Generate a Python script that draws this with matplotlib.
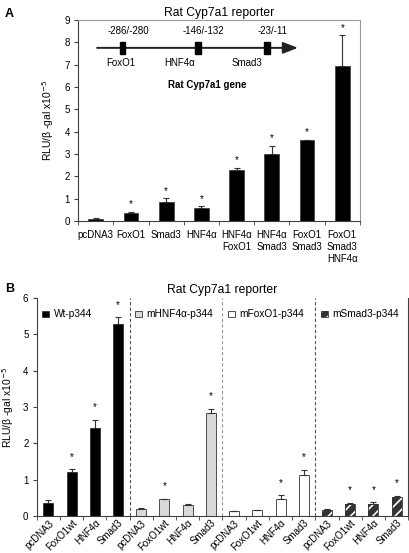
import matplotlib
matplotlib.use("Agg")
import matplotlib.pyplot as plt
from matplotlib.patches import Rectangle
import numpy as np

plt.rcParams['font.family'] = ['Liberation Sans', 'DejaVu Sans']
plt.rcParams['hatch.linewidth'] = 1.2

# ---------------- Data ----------------
a_labels = ["pcDNA3", "FoxO1", "Smad3", "HNF4α", "HNF4α\nFoxO1", "HNF4α\nSmad3",
            "FoxO1\nSmad3", "FoxO1\nSmad3\nHNF4α"]
a_values = [0.12, 0.36, 0.87, 0.61, 2.31, 2.99, 3.63, 6.93]
a_errors = [0.02, 0.06, 0.15, 0.05, 0.08, 0.37, 0.02, 1.38]
a_star = [False, True, True, True, True, True, True, True]

b_groups = ["Wt-p344", "mHNF4α-p344", "mFoxO1-p344", "mSmad3-p344"]
b_labels = ["pcDNA3", "FoxO1wt", "HNF4α", "Smad3"]
b_values = [[0.35, 1.22, 2.43, 5.29],
            [0.20, 0.46, 0.30, 2.83],
            [0.13, 0.16, 0.48, 1.14],
            [0.17, 0.34, 0.34, 0.51]]
b_errors = [[0.08, 0.07, 0.22, 0.19],
            [0.02, 0.02, 0.02, 0.12],
            [0.01, 0.01, 0.10, 0.13],
            [0.01, 0.03, 0.04, 0.05]]
b_star = [[False, True, True, True],
          [False, True, False, True],
          [False, False, True, True],
          [False, True, True, True]]

b_face = ["black", "#d9d9d9", "white", "#333333"]
b_hatch = [None, None, None, "///"]

ylabel = "RLU/β -gal x10$^{-5}$"

fig = plt.figure(figsize=(4.09, 5.53), dpi=100)

# ---------------- Panel A ----------------
axA = fig.add_axes([0.191, 0.600, 0.689, 0.364])
xa = np.arange(len(a_values))
axA.bar(xa, a_values, width=0.42, color="black", edgecolor="#444444", linewidth=0.6,
        yerr=[np.zeros(len(a_errors)), a_errors], capsize=2,
        error_kw=dict(ecolor="#333333", elinewidth=0.8, capthick=0.8))
for x, v, e, s in zip(xa, a_values, a_errors, a_star):
    if s:
        axA.text(x, v + e + 0.12, "*", ha="center", va="bottom", fontsize=7)
axA.set_xlim(-0.5, len(a_values) - 0.5)
axA.set_ylim(0, 9)
axA.set_yticks(range(0, 10))
axA.set_xticks(xa)
axA.set_xticklabels(a_labels, fontsize=7, linespacing=1.25)
axA.set_xticks(np.arange(-0.5, len(a_values)), minor=True)
axA.tick_params(axis="x", which="major", length=0, pad=6)
axA.tick_params(axis="x", which="minor", length=3, direction="out", color="#404040")
axA.tick_params(axis="y", length=3, labelsize=7, color="#404040", pad=3)
for sp in ["top", "right"]:
    axA.spines[sp].set_color("#9a9a9a")
    axA.spines[sp].set_linewidth(0.8)
for sp in ["left", "bottom"]:
    axA.spines[sp].set_color("#404040")
    axA.spines[sp].set_linewidth(0.8)
axA.set_ylabel(ylabel, fontsize=7.5, labelpad=6)
axA.set_title("Rat Cyp7a1 reporter", fontsize=8.7, pad=3)

# gene diagram (annotation)
gy = 7.75
axA.annotate("", xy=(5.74, gy), xytext=(0.04, gy),
             arrowprops=dict(arrowstyle="-|>,head_length=0.9,head_width=0.35",
                             color="#222222", lw=1.4, shrinkA=0, shrinkB=0))
for bx, top in [(0.77, "-286/-280"), (2.90, "-146/-132"), (4.86, "-23/-11")]:
    axA.add_patch(Rectangle((bx - 0.075, gy - 0.27), 0.15, 0.54, color="black", zorder=5))
    axA.text(bx + 0.15, gy + 0.55, top, ha="center", va="bottom", fontsize=7)
axA.text(0.70, gy - 0.45, "FoxO1", ha="center", va="top", fontsize=7)
axA.text(2.38, gy - 0.45, "HNF4α", ha="center", va="top", fontsize=7)
axA.text(4.29, gy - 0.45, "Smad3", ha="center", va="top", fontsize=7)
axA.text(3.16, 6.1, "Rat Cyp7a1 gene", ha="center", va="center", fontsize=7, fontweight="bold")

fig.text(0.012, 0.985, "A", fontsize=9, fontweight="bold", va="top")

# ---------------- Panel B ----------------
axB = fig.add_axes([0.090, 0.067, 0.908, 0.394])
n = len(b_labels)
for g in range(len(b_groups)):
    xs = np.arange(n) + g * n
    if b_hatch[g]:
        # white hatch layer, then dark outline on top
        axB.bar(xs, b_values[g], width=0.43, color=b_face[g], edgecolor="white",
                linewidth=0, hatch=b_hatch[g])
        axB.bar(xs, b_values[g], width=0.43, fill=False, edgecolor="#333333",
                linewidth=0.6, yerr=[np.zeros(n), b_errors[g]], capsize=2,
                error_kw=dict(ecolor="#333333", elinewidth=0.8, capthick=0.8))
    else:
        axB.bar(xs, b_values[g], width=0.43, color=b_face[g], edgecolor="#333333",
                linewidth=0.6,
                yerr=[np.zeros(n), b_errors[g]], capsize=2,
                error_kw=dict(ecolor="#333333", elinewidth=0.8, capthick=0.8))
    for x, v, e, s in zip(xs, b_values[g], b_errors[g], b_star[g]):
        if s:
            axB.text(x, v + e + 0.2, "*", ha="center", va="bottom", fontsize=7)
    # legend-like key
    x0 = g * n - 0.12
    if b_hatch[g]:
        axB.add_patch(Rectangle((x0 - 0.15, 5.48), 0.3, 0.17, facecolor=b_face[g],
                                edgecolor="white", linewidth=0, hatch="///"))
        axB.add_patch(Rectangle((x0 - 0.15, 5.48), 0.3, 0.17, fill=False,
                                edgecolor="#333333", linewidth=0.6))
    else:
        axB.add_patch(Rectangle((x0 - 0.15, 5.48), 0.3, 0.17, facecolor=b_face[g],
                                edgecolor="#333333", linewidth=0.6))
    axB.text(x0 + 0.35, 5.565, b_groups[g], ha="left", va="center", fontsize=7.3)
    if g > 0:
        axB.axvline(g * n - 0.5, color="#999999" if g == 2 else "#555555",
                    linestyle=(0, (3, 2)), linewidth=0.8)

total = n * len(b_groups)
axB.set_xlim(-0.5, total - 0.5)
axB.set_ylim(0, 6)
axB.set_yticks(range(0, 7))
axB.set_xticks(np.arange(total))
axB.set_xticklabels(b_labels * len(b_groups), rotation=45, ha="right",
                    rotation_mode="anchor", fontsize=7)
axB.set_xticks(np.arange(-0.5, total), minor=True)
axB.tick_params(axis="x", which="major", length=0, pad=1.5)
axB.tick_params(axis="x", which="minor", length=3, direction="out", color="#404040")
axB.tick_params(axis="y", length=3, labelsize=7, color="#404040", pad=3)
axB.spines["top"].set_visible(False)
for sp in ["left", "bottom", "right"]:
    axB.spines[sp].set_color("#404040")
    axB.spines[sp].set_linewidth(0.8)
axB.set_ylabel(ylabel, fontsize=7.5, labelpad=5)
axB.set_title("Rat Cyp7a1 reporter", fontsize=8.7, pad=4)

fig.text(0.012, 0.488, "B", fontsize=9, fontweight="bold", va="top")

fig.savefig("out.png", dpi=100)
